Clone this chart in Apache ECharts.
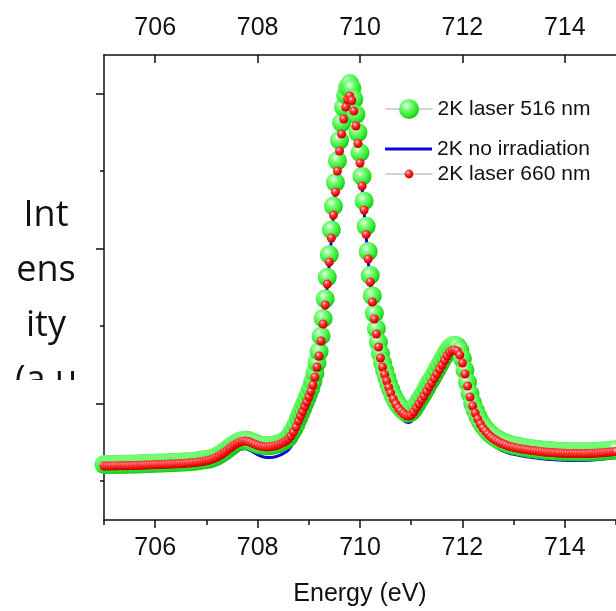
<!DOCTYPE html>
<html>
<head>
<meta charset="utf-8">
<script src="https://cdn.jsdelivr.net/npm/echarts@6/dist/echarts.min.js"></script>
<style>
  html, body { margin: 0; padding: 0; background: #fff; }
  #chart { width: 616px; height: 611px; }
</style>
</head>
<body>
<div id="chart"></div>
<script>
// photon energy (eV), finer steps across the main L3 peak
const energy = [
  705, 705.05, 705.1, 705.15, 705.2, 705.25, 705.3, 705.35, 705.4, 705.45,
  705.5, 705.55, 705.6, 705.65, 705.7, 705.75, 705.8, 705.85, 705.9, 705.95,
  706, 706.05, 706.1, 706.15, 706.2, 706.25, 706.3, 706.35, 706.4, 706.45,
  706.5, 706.55, 706.6, 706.65, 706.7, 706.75, 706.8, 706.85, 706.9, 706.95,
  707, 707.05, 707.1, 707.15, 707.2, 707.25, 707.3, 707.35, 707.4, 707.45,
  707.5, 707.55, 707.6, 707.65, 707.7, 707.75, 707.8, 707.85, 707.9, 707.95,
  708, 708.05, 708.1, 708.15, 708.2, 708.25, 708.3, 708.35, 708.4, 708.45,
  708.5, 708.55, 708.6, 708.65, 708.7, 708.75,
  708.8, 708.84, 708.88, 708.92, 708.96, 709, 709.04, 709.08, 709.12, 709.16,
  709.2, 709.24, 709.28, 709.32, 709.36, 709.4, 709.44, 709.48, 709.52, 709.56,
  709.6, 709.64, 709.68, 709.72, 709.76, 709.8, 709.84, 709.88, 709.92, 709.96,
  710, 710.04, 710.08, 710.12, 710.16, 710.2, 710.24, 710.28, 710.32, 710.36,
  710.4, 710.44, 710.48, 710.52, 710.56, 710.6,
  710.65, 710.7, 710.75, 710.8, 710.85, 710.9, 710.95,
  711, 711.05, 711.1, 711.15, 711.2, 711.25, 711.3, 711.35, 711.4, 711.45,
  711.5, 711.55, 711.6, 711.65, 711.7, 711.75, 711.8, 711.85, 711.9, 711.95,
  712, 712.05, 712.1, 712.15, 712.2, 712.25, 712.3, 712.35, 712.4, 712.45,
  712.5, 712.55, 712.6, 712.65, 712.7, 712.75, 712.8, 712.85, 712.9, 712.95,
  713, 713.05, 713.1, 713.15, 713.2, 713.25, 713.3, 713.35, 713.4, 713.45,
  713.5, 713.55, 713.6, 713.65, 713.7, 713.75, 713.8, 713.85, 713.9, 713.95,
  714, 714.05, 714.1, 714.15, 714.2, 714.25, 714.3, 714.35, 714.4, 714.45,
  714.5, 714.55, 714.6, 714.65, 714.7, 714.75, 714.8, 714.85, 714.9, 714.95,
  715, 715.05, 715.1, 715.15, 715.2
];

// intensity (a.u.)
const laser516 = [
  55.5, 55.5, 55.5, 55.5, 55.6, 55.6, 55.7, 55.7, 55.8, 55.8,
  55.9, 56.0, 56.0, 56.1, 56.2, 56.3, 56.4, 56.5, 56.6, 56.7,
  56.8, 56.9, 57.0, 57.1, 57.2, 57.3, 57.4, 57.5, 57.6, 57.7,
  57.9, 58.0, 58.2, 58.4, 58.6, 58.8, 59.1, 59.4, 59.8, 60.2,
  60.7, 60.8, 61.6, 62.5, 63.7, 65.1, 66.7, 68.5, 70.4, 72.4,
  74.3, 76.1, 77.6, 78.8, 79.6, 80.0, 79.7, 78.9, 77.9, 76.8,
  75.8, 75.0, 74.5, 74.2, 74.2, 74.4, 74.8, 75.4, 76.2, 77.2,
  78.5, 80.1, 82.1, 86.2, 90.3, 95.5,
  101.7, 106.8, 111.5, 116.6, 121.2, 126.4, 132.1, 138.8, 147.0, 157.3,
  168.6, 184.1, 201.6, 221.2, 242.8, 265.4, 290.2, 313.9, 337.5, 359.2,
  379.8, 397.3, 412.7, 425.1, 432.8, 436.4, 431.8, 421.0, 405.5, 387.5,
  367.4, 343.7, 319.0, 293.8, 268.5, 244.8, 224.2, 206.7, 191.3, 177.9,
  166.6, 157.3, 149.6, 142.9, 136.2, 130.5,
  124.3, 119.2, 115.1, 112.0, 109.4, 107.3, 106.8,
  107.9, 110.9, 115.1, 119.2, 123.3, 127.4, 132.1, 136.7, 140.8, 145.4,
  150.1, 154.7, 159.4, 164.0, 168.6, 172.2, 174.3, 174.8, 173.8, 169.7,
  161.4, 150.1, 137.7, 126.4, 117.1, 109.9, 103.7, 98.6, 94.5, 91.4,
  88.3, 85.7, 83.6, 82.1, 80.6, 79.0, 78.0, 77.0, 75.9, 75.2,
  74.6, 73.9, 73.4, 72.9, 72.5, 72.1, 71.7, 71.3, 71.0, 70.7,
  70.4, 70.1, 69.8, 69.6, 69.4, 69.2, 69.0, 68.8, 68.7, 68.6,
  68.5, 68.4, 68.3, 68.3, 68.2, 68.2, 68.2, 68.2, 68.3, 68.3,
  68.4, 68.5, 68.6, 68.7, 68.9, 69.1, 69.3, 69.5, 69.8, 70.0,
  70.3, 70.6, 70.9, 71.2, 71.5
];

const noIrradiation = [
  48.5, 48.5, 48.5, 48.5, 48.6, 48.6, 48.7, 48.7, 48.8, 48.8,
  48.9, 49.0, 49.0, 49.1, 49.2, 49.3, 49.4, 49.5, 49.6, 49.7,
  49.8, 49.9, 50.0, 50.1, 50.2, 50.3, 50.4, 50.5, 50.6, 50.7,
  50.9, 50.9, 51.0, 51.1, 51.3, 51.4, 51.7, 51.9, 52.3, 52.7,
  53.2, 53.7, 54.4, 55.2, 56.3, 57.6, 59.1, 60.7, 62.5, 64.4,
  66.2, 67.9, 69.3, 70.4, 71.1, 71.5, 70.9, 69.7, 68.2, 66.7,
  65.3, 64.1, 63.2, 62.6, 62.4, 62.4, 62.7, 63.3, 64.1, 65.1,
  66.4, 68.0, 70.0, 73.2, 77.5, 83,
  89.5, 95, 100, 106, 111, 117, 123.5, 130.5, 139, 149.5,
  161, 176.5, 194, 213, 234, 256.5, 280.5, 303.5, 326.5, 347.5,
  367.5, 384.5, 399, 411, 418.5, 422, 417.5, 407, 392.5, 375,
  355.5, 332.5, 308.5, 284, 259.5, 236.5, 216, 199, 184, 170.5,
  159, 149.5, 141.5, 135, 128, 122,
  115.5, 110.5, 106, 103, 100, 98, 97.5,
  98.5, 101.5, 106, 110, 114.5, 118.5, 123.5, 128, 132, 137,
  141.5, 146, 150.5, 155.5, 160, 163.5, 165.5, 166, 165, 161,
  153, 142, 129.5, 118.5, 109, 102, 95.5, 90.5, 86, 83,
  79.5, 77, 75, 73, 71.5, 70, 69, 68, 67, 66.3,
  65.7, 65.1, 64.6, 64.1, 63.7, 63.3, 62.9, 62.5, 62.2, 61.9,
  61.6, 61.3, 61.0, 60.8, 60.6, 60.4, 60.2, 60.0, 59.9, 59.8,
  59.7, 59.6, 59.5, 59.5, 59.4, 59.4, 59.4, 59.5, 59.6, 59.7,
  59.8, 60.0, 60.2, 60.4, 60.7, 61.0, 61.3, 61.6, 62.0, 62.3,
  62.7, 63.1, 63.5, 63.9, 64.2
];

const laser660 = [
  54.0, 54.0, 54.0, 54.0, 54.1, 54.1, 54.2, 54.2, 54.3, 54.3,
  54.4, 54.5, 54.5, 54.6, 54.7, 54.8, 54.9, 55.0, 55.1, 55.2,
  55.3, 55.4, 55.5, 55.6, 55.7, 55.8, 55.9, 56.0, 56.1, 56.2,
  56.4, 56.5, 56.7, 56.9, 57.1, 57.3, 57.6, 57.9, 58.3, 58.7,
  59.2, 59.8, 60.6, 61.5, 62.7, 64.1, 65.7, 67.5, 69.4, 71.4,
  73.3, 75.1, 76.6, 77.8, 78.6, 79.0, 78.7, 77.9, 76.8, 75.7,
  74.7, 73.9, 73.4, 73.1, 73.1, 73.3, 73.7, 74.3, 75.1, 76.1,
  77.4, 79.0, 81.0, 84, 88, 93,
  99, 104, 108.5, 113.5, 118, 123, 128.5, 135, 143, 153,
  164, 179, 196, 215, 236, 258, 282, 305, 328, 349,
  369, 386, 401, 413, 420.5, 424, 419.5, 409, 394, 376.5,
  357, 334, 310, 285.5, 261, 238, 218, 201, 186, 173,
  162, 153, 145.5, 139, 132.5, 127,
  121, 116, 112, 109, 106.5, 104.5, 104,
  105, 108, 112, 116, 120, 124, 128.5, 133, 137, 141.5,
  146, 150.5, 155, 159.5, 164, 167.5, 169.5, 170, 169, 165,
  157, 146, 134, 123, 114, 107, 101, 96, 92, 89,
  86, 83.5, 81.5, 80, 78.5, 77, 76, 75, 74, 73.3,
  72.7, 72.1, 71.6, 71.1, 70.7, 70.3, 69.9, 69.5, 69.2, 68.9,
  68.6, 68.3, 68.0, 67.8, 67.6, 67.4, 67.2, 67.0, 66.9, 66.8,
  66.7, 66.6, 66.5, 66.5, 66.4, 66.4, 66.4, 66.4, 66.5, 66.5,
  66.6, 66.7, 66.8, 66.9, 67.1, 67.3, 67.5, 67.7, 68.0, 68.2,
  68.5, 68.8, 69.1, 69.4, 69.7
];

const seriesNames = ['2K laser 516 nm', '2K no irradiation', '2K laser 660 nm'];

// axis ticks
const xMajorTicks = [706, 708, 710, 712, 714];
const xMinorTicks = [705, 707, 709, 711, 713, 715];
const yMajorTicks = [116.5, 271.5, 426.5];
const yMinorTicks = [39, 194, 349];

const pair = vals => energy.map((e, i) => [e, vals[i]]);

const ball = (hi, mid, edge, rim) => ({
  type: 'radial', x: 0.38, y: 0.33, r: 0.68,
  colorStops: [
    {offset: 0, color: hi},
    {offset: 0.3, color: mid},
    {offset: 0.8, color: edge},
    {offset: 1, color: rim}
  ]
});

const axisFont = {fontFamily: 'Liberation Sans', fontSize: 25, color: '#111'};
const black = {color: '#111', width: 1.5};

const xBase = {
  type: 'value', min: 705, max: 715, splitLine: {show: false}
};

const legendBase = {
  left: 385, padding: 0, itemWidth: 47, itemGap: 0,
  textStyle: {fontFamily: 'Liberation Sans', fontSize: 21, color: '#111'},
  selectedMode: false
};

const chart = echarts.init(document.getElementById('chart'));
chart.setOption({
  animation: false,
  backgroundColor: '#fff',
  grid: {left: 104, top: 55, right: 0, bottom: 91, outerBoundsMode: 'none'},
  legend: [
    Object.assign({}, legendBase, {
      top: 98.5, itemHeight: 25, data: [seriesNames[0]],
      lineStyle: {color: '#aaa', width: 1, opacity: 1}
    }),
    Object.assign({}, legendBase, {
      top: 138.5, itemHeight: 3, data: [{name: seriesNames[1], icon: 'rect'}]
    }),
    Object.assign({}, legendBase, {
      top: 163.5, itemHeight: 11, data: [seriesNames[2]],
      lineStyle: {color: '#aaa', width: 1, opacity: 1}
    })
  ],
  xAxis: [
    Object.assign({}, xBase, {
      position: 'bottom',
      name: 'Energy (eV)', nameLocation: 'middle', nameGap: 62,
      nameTextStyle: {fontFamily: 'Liberation Sans', fontSize: 25, color: '#111'},
      axisLine: {onZero: false, lineStyle: black},
      axisTick: {customValues: xMajorTicks, length: 8, lineStyle: black},
      axisLabel: Object.assign({customValues: xMajorTicks, margin: 16}, axisFont)
    }),
    Object.assign({}, xBase, {
      position: 'bottom',
      axisLine: {show: false},
      axisTick: {customValues: xMinorTicks, length: 5, lineStyle: black},
      axisLabel: {show: false}
    }),
    Object.assign({}, xBase, {
      position: 'top',
      axisLine: {onZero: false, lineStyle: black},
      axisTick: {customValues: xMajorTicks, inside: true, length: 8, lineStyle: black},
      axisLabel: Object.assign({customValues: xMajorTicks, margin: 14}, axisFont)
    }),
    Object.assign({}, xBase, {
      position: 'top',
      axisLine: {show: false},
      axisTick: {customValues: xMinorTicks, inside: true, length: 5, lineStyle: black},
      axisLabel: {show: false}
    })
  ],
  yAxis: [
    {
      type: 'value', min: 0, max: 465, position: 'left',
      splitLine: {show: false},
      axisLine: {show: true, onZero: false, lineStyle: black},
      axisTick: {customValues: yMajorTicks, length: 8, lineStyle: black},
      axisLabel: {show: false}
    },
    {
      type: 'value', min: 0, max: 465, position: 'left',
      splitLine: {show: false},
      axisLine: {show: false},
      axisTick: {customValues: yMinorTicks, length: 4, lineStyle: black},
      axisLabel: {show: false}
    }
  ],
  graphic: [
    {
      type: 'text', x: 46, y: 188, z: 10,
      style: {
        text: 'Int\nens\nity\n(a.u\n.)',
        align: 'center', verticalAlign: 'top',
        fontFamily: 'Open Sans', fontSize: 36, lineHeight: 55, fill: '#111'
      }
    },
    {
      type: 'rect', x: 0, y: 380, z: 11,
      shape: {width: 94, height: 231},
      style: {fill: '#fff'}
    }
  ],
  series: [
    {
      name: seriesNames[0], type: 'line', data: pair(laser516),
      symbol: 'circle', symbolSize: 19, showAllSymbol: true,
      lineStyle: {color: '#aaa', width: 1, opacity: 0},
      itemStyle: {color: ball('#f0fff0', '#80ff80', '#2ae62a', '#1cbf1c')},
      emphasis: {disabled: true}
    },
    {
      name: seriesNames[1], type: 'line', data: pair(noIrradiation),
      symbol: 'none',
      lineStyle: {color: '#0a0ad8', width: 3},
      itemStyle: {color: '#0a0ad8'},
      emphasis: {disabled: true}
    },
    {
      name: seriesNames[2], type: 'line', data: pair(laser660),
      symbol: 'circle', symbolSize: 9, showAllSymbol: true,
      lineStyle: {color: '#aaa', width: 1, opacity: 0},
      itemStyle: {color: ball('#ffe8e8', '#ff4a4a', '#e80000', '#b00000')},
      emphasis: {disabled: true}
    }
  ]
});
</script>
</body>
</html>
